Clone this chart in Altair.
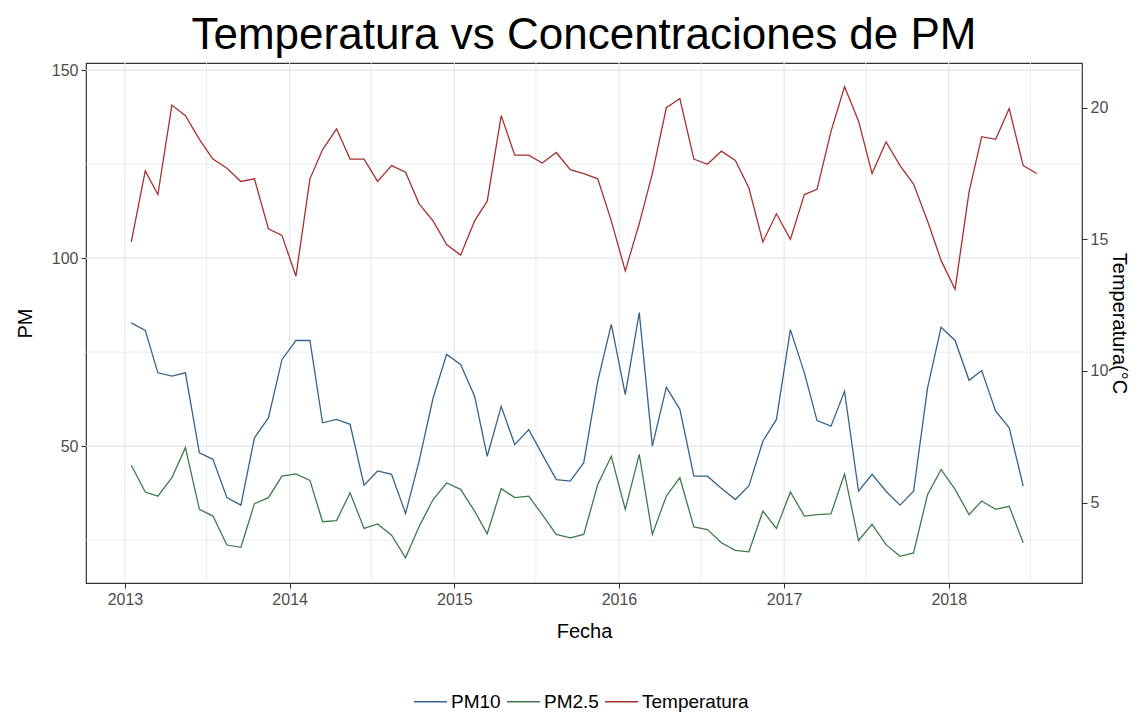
import altair as alt
import pandas as pd

FONT = "Liberation Sans"

# monthly dates (mid-month)
fechas_temp = [f"{2013 + k // 12}-{k % 12 + 1:02d}-15" for k in range(67)]
fechas_pm = fechas_temp[:66]

pm10 = [82.8, 80.8, 69.5, 68.6, 69.5, 48.2, 46.5, 36.3, 34.3, 52.2, 57.5, 73.0,
        78.1, 78.1, 56.2, 57.1, 55.8, 39.6, 43.4, 42.5, 32.1, 46.0, 62.8, 74.4,
        71.7, 63.3, 47.3, 60.6, 50.4, 54.4, 47.8, 41.1, 40.7, 45.6, 67.3, 82.4,
        63.7, 85.5, 50.0, 65.7, 59.8, 42.0, 42.0, 38.8, 35.8, 39.4, 51.3, 57.1,
        81.0, 69.5, 56.8, 55.3, 64.6, 38.0, 42.5, 38.0, 34.3, 38.0, 65.5, 81.6,
        78.1, 67.5, 70.1, 59.3, 54.9, 39.4]

pm25 = [44.9, 37.8, 36.7, 41.6, 49.6, 33.2, 31.4, 23.7, 23.1, 34.7, 36.3, 42.0,
        42.6, 40.9, 29.9, 30.2, 37.6, 28.1, 29.3, 26.3, 20.3, 28.6, 35.8, 40.2,
        38.5, 32.7, 26.7, 38.7, 36.3, 36.7, 31.8, 26.5, 25.6, 26.5, 39.8, 47.3,
        33.2, 47.8, 26.5, 36.7, 41.6, 28.5, 27.8, 24.3, 22.3, 21.9, 32.7, 28.1,
        37.8, 31.4, 31.8, 32.0, 42.6, 24.9, 29.2, 23.8, 20.7, 21.6, 37.1, 43.8,
        38.5, 31.8, 35.4, 33.2, 34.0, 24.3]

temperatura = [14.9, 17.6, 16.7, 20.1, 19.7, 18.8, 18.05, 17.7, 17.2, 17.3, 15.4, 15.15,
               13.6, 17.3, 18.4, 19.2, 18.05, 18.05, 17.2, 17.8, 17.55, 16.35, 15.7, 14.8,
               14.4, 15.7, 16.45, 19.7, 18.2, 18.2, 17.9, 18.3, 17.65, 17.5, 17.3, 15.7,
               13.8, 15.6, 17.5, 20.0, 20.35, 18.05, 17.85, 18.35, 18.0, 16.95, 14.9, 15.97,
               15.0, 16.7, 16.9, 19.1, 20.8, 19.5, 17.5, 18.7, 17.8, 17.1, 15.7, 14.2,
               13.1, 16.8, 18.9, 18.8, 19.97, 17.8, 17.5]

series = ["PM10", "PM2.5", "Temperatura"]
colores = ["#36648B", "#3E7B4A", "#A8302F"]

escala_temp = 7  # secondary axis: PM = 7 * temperature
y_dom = [13.6, 151.9]
y_major = [50, 100, 150]
y_minor = [25, 75, 125]
x_major_years = [2013, 2014, 2015, 2016, 2017, 2018]
x_minor = [f"{a}-07-01" for a in x_major_years]
temp_ticks = [5, 10, 15, 20]

df_pm = pd.concat([
    pd.DataFrame({"fecha": fechas_pm, "valor": pm10, "serie": "PM10"}),
    pd.DataFrame({"fecha": fechas_pm, "valor": pm25, "serie": "PM2.5"}),
])
df_temp = pd.DataFrame({"fecha": fechas_temp, "valor": temperatura, "serie": "Temperatura"})

t0 = pd.Timestamp(fechas_temp[0])
t1 = pd.Timestamp(fechas_temp[-1])
pad = (t1 - t0) * 0.05
x_dom = [int((t0 - pad).value // 10**6), int((t1 + pad).value // 10**6)]

xscale = alt.Scale(domain=x_dom, nice=False)
xaxis = alt.Axis(values=[alt.DateTime(year=a, month=1, date=1) for a in x_major_years],
                 format="%Y", grid=False, title="Fecha")
yscale = alt.Scale(domain=y_dom, nice=False, zero=False)
yaxis = alt.Axis(values=y_major, grid=False, title="PM", orient="left")

def X():
    return alt.X("fecha:T", scale=xscale, axis=xaxis)

color = alt.Color("serie:N", scale=alt.Scale(domain=series, range=colores),
                  legend=alt.Legend(title=None, orient="none", direction="horizontal",
                                    legendX=327, legendY=621,
                                    symbolType="stroke", symbolSize=1089,
                                    symbolStrokeWidth=1.3, labelFontSize=19,
                                    labelFont=FONT, labelColor="#000000",
                                    columnPadding=3, labelOffset=3))

grid_col = "#E6E6E6"
gx_major = alt.Chart(pd.DataFrame({"fecha": [f"{a}-01-01" for a in x_major_years]})).mark_rule(
    color=grid_col, strokeWidth=1.1).encode(x=X())
gx_minor = alt.Chart(pd.DataFrame({"fecha": x_minor})).mark_rule(
    color=grid_col, strokeWidth=0.8).encode(x=X())
gy_major = alt.Chart(pd.DataFrame({"valor": y_major})).mark_rule(
    color=grid_col, strokeWidth=1.1).encode(y=alt.Y("valor:Q", scale=yscale, axis=yaxis))
gy_minor = alt.Chart(pd.DataFrame({"valor": y_minor})).mark_rule(
    color=grid_col, strokeWidth=0.8).encode(y=alt.Y("valor:Q", scale=yscale, axis=yaxis))

lines_pm = alt.Chart(df_pm).mark_line(strokeWidth=1.3).encode(
    x=X(), y=alt.Y("valor:Q", scale=yscale, axis=yaxis), color=color)

left = alt.layer(gx_major, gx_minor, gy_major, gy_minor, lines_pm)

line_temp = alt.Chart(df_temp).mark_line(strokeWidth=1.3).encode(
    x=X(),
    y=alt.Y("valor:Q",
            scale=alt.Scale(domain=[y_dom[0] / escala_temp, y_dom[1] / escala_temp],
                            nice=False, zero=False),
            axis=alt.Axis(values=temp_ticks, grid=False, title="Temperatura(°C",
                          orient="right", titlePadding=1)),
    color=color)

chart = alt.layer(left, line_temp).resolve_scale(y="independent").properties(
    width=996, height=520,
    title=alt.TitleParams("Temperatura vs Concentraciones de PM", fontSize=44,
                          font=FONT, fontWeight="normal", color="#000000",
                          anchor="middle", offset=4),
    padding={"left": 7, "top": 6, "right": 6, "bottom": 0},
).configure_view(stroke="#333333", strokeWidth=1.2).configure_axis(
    labelFont=FONT, labelFontSize=16, labelColor="#4D4D4D",
    titleFont=FONT, titleFontSize=20, titleColor="#000000", titleFontWeight="normal",
    tickColor="#333333", tickSize=5, domain=False, labelPadding=3,
).configure_axisLeft(titlePadding=16).configure_axisBottom(titlePadding=14)

chart.save("out.html", embed_options={"renderer": "svg", "actions": False})
